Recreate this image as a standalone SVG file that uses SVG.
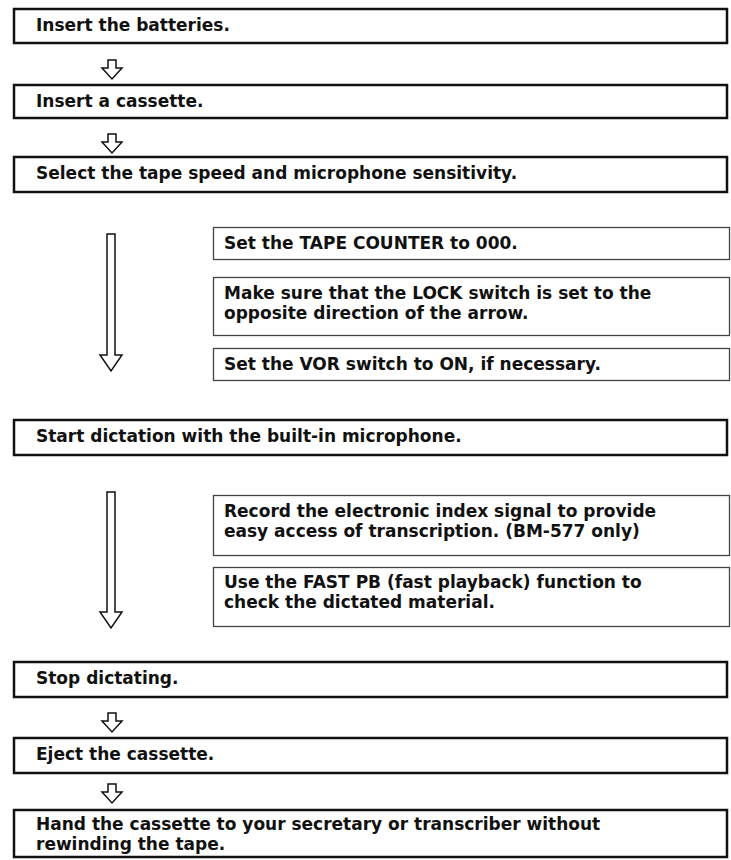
<svg xmlns="http://www.w3.org/2000/svg" xmlns:xlink="http://www.w3.org/1999/xlink" width="731" height="860" viewBox="0 0 731 860">
<style>
  .main { fill: #fff; stroke: #111; stroke-width: 2.5; }
  .sub { fill: #fff; stroke: #444; stroke-width: 1.3; }
  text { font-family: "DejaVu Sans", "Liberation Sans", sans-serif; font-weight: bold; font-size: 17px; fill: #111; }
  .arrow { fill: #fff; stroke: #111; stroke-width: 1.5; stroke-linejoin: miter; }
</style>
<defs>
  <path id="smallArrow" d="M-4,0 H4 V8 H10 L0,19 L-10,8 H-4 Z"/>
</defs>
<rect width="731" height="860" fill="#fff"/>

<g id="connectors">
  <use xlink:href="#smallArrow" href="#smallArrow" class="arrow" transform="translate(112,60)"/>
  <use xlink:href="#smallArrow" href="#smallArrow" class="arrow" transform="translate(112,134)"/>
  <path class="arrow" d="M107,234 H115 V355 H122 L111,371 L100,355 H107 Z"/>
  <path class="arrow" d="M107,492 H115 V612 H122 L111,628 L100,612 H107 Z"/>
  <use xlink:href="#smallArrow" href="#smallArrow" class="arrow" transform="translate(112,713)"/>
  <use xlink:href="#smallArrow" href="#smallArrow" class="arrow" transform="translate(112,784)"/>
</g>

<g id="step1">
  <rect class="main" x="14" y="9" width="713" height="34"/>
  <text x="36" y="31">Insert the batteries.</text>
</g>
<g id="step2">
  <rect class="main" x="14" y="85" width="713" height="33"/>
  <text x="36" y="107">Insert a cassette.</text>
</g>
<g id="step3">
  <rect class="main" x="14" y="157" width="713" height="35"/>
  <text x="36" y="179">Select the tape speed and microphone sensitivity.</text>
</g>
<g id="sub-counter">
  <rect class="sub" x="213.5" y="227.5" width="516" height="32"/>
  <text x="224" y="249">Set the TAPE COUNTER to 000.</text>
</g>
<g id="sub-lock">
  <rect class="sub" x="213.5" y="277.5" width="516" height="58"/>
  <text x="224" y="299">Make sure that the LOCK switch is set to the</text>
  <text x="224" y="319">opposite direction of the arrow.</text>
</g>
<g id="sub-vor">
  <rect class="sub" x="213.5" y="348.5" width="516" height="32"/>
  <text x="224" y="370">Set the VOR switch to ON, if necessary.</text>
</g>
<g id="step4">
  <rect class="main" x="14" y="420" width="713" height="35"/>
  <text x="36" y="442">Start dictation with the built-in microphone.</text>
</g>
<g id="sub-index">
  <rect class="sub" x="213.5" y="495.5" width="516" height="60"/>
  <text x="224" y="517">Record the electronic index signal to provide</text>
  <text x="224" y="537">easy access of transcription. (BM-577 only)</text>
</g>
<g id="sub-fastpb">
  <rect class="sub" x="213.5" y="567.5" width="516" height="59"/>
  <text x="224" y="588">Use the FAST PB (fast playback) function to</text>
  <text x="224" y="608">check the dictated material.</text>
</g>
<g id="step5">
  <rect class="main" x="14" y="662" width="713" height="35"/>
  <text x="36" y="684">Stop dictating.</text>
</g>
<g id="step6">
  <rect class="main" x="14" y="738" width="713" height="35"/>
  <text x="36" y="760">Eject the cassette.</text>
</g>
<g id="step7">
  <rect class="main" x="14" y="810" width="713" height="47"/>
  <text x="36" y="830">Hand the cassette to your secretary or transcriber without</text>
  <text x="36" y="850">rewinding the tape.</text>
</g>
</svg>
